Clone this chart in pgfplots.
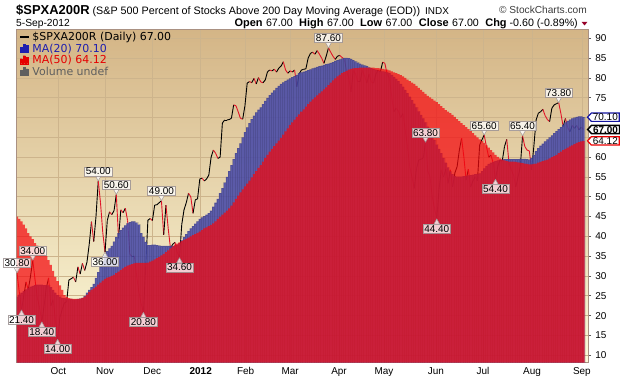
\documentclass[border=0pt]{standalone}
\usepackage{fontspec}
\setmainfont{Liberation Sans}
\newfontfamily\dejavu{DejaVu Sans}
\usepackage{pgfplots}
\pgfplotsset{compat=1.18}
\usepackage{pgfplotstable}
\usetikzlibrary{shapes.symbols}

\definecolor{bgtop}{RGB}{212,181,134}
\definecolor{bgbot}{RGB}{253,250,218}
\definecolor{gridc}{RGB}{205,180,140}
\definecolor{bordc}{RGB}{170,145,130}
\definecolor{tickc}{RGB}{90,90,90}
\definecolor{mablue}{RGB}{72,74,168}
\definecolor{mared}{RGB}{245,8,14}
\definecolor{lblbord}{RGB}{160,150,150}
\definecolor{legblue}{RGB}{30,30,175}
\definecolor{legred}{RGB}{230,0,0}
\definecolor{leggray}{RGB}{95,95,95}
\definecolor{tagblue}{RGB}{20,20,160}
\definecolor{tagred}{RGB}{235,0,0}
\definecolor{chgred}{RGB}{150,0,40}
\definecolor{copyc}{RGB}{60,60,60}

% pointer marks for the value call-outs: apex on the data point
\pgfdeclareplotmark{ptrdown}{%
  \pgfpathmoveto{\pgfqpoint{0pt}{0pt}}%
  \pgfpathlineto{\pgfqpoint{-2.9bp}{5.2bp}}%
  \pgfpathlineto{\pgfqpoint{2.9bp}{5.2bp}}%
  \pgfpathclose\pgfusepathqfillstroke}
\pgfdeclareplotmark{ptrup}{%
  \pgfpathmoveto{\pgfqpoint{0pt}{0pt}}%
  \pgfpathlineto{\pgfqpoint{-2.9bp}{-5.2bp}}%
  \pgfpathlineto{\pgfqpoint{2.9bp}{-5.2bp}}%
  \pgfpathclose\pgfusepathqfillstroke}

% x = trading day index (0 = 7-Sep-2011), p = % above 200 DMA,
% c = 1 if the next day is lower (segment drawn red), m20 / m50 = moving averages
\pgfplotstableread{
x p c m20 m50
0 30.8 1 24.8 45.0
1 26 1 25.3 44.4
2 21.4 0 25.8 43.8
3 25 0 26.2 43.0
4 28.5 1 26.6 42.0
5 26.5 0 27.0 40.8
6 30 0 27.3 40.0
7 34 1 27.5 39.3
8 29 1 27.7 38.3
9 24.5 1 27.8 37.7
10 22 1 27.8 37.2
11 18.4 0 27.8 36.6
12 22.5 0 27.7 35.8
13 27 0 27.7 35.0
14 29.5 1 27.6 34.0
15 22.5 0 27.2 32.8
16 24 1 26.5 31.3
17 19 1 25.8 29.8
18 14 0 25.2 28.7
19 19.5 0 24.8 27.6
20 21.5 0 24.5 26.5
21 23.2 0 24.4 25.2
22 23.5 0 24.3 24.7
23 29 0 24.2 24.4
24 29.3 0 24.2 24.3
25 29.7 1 24.1 24.2
26 28.5 0 24.1 24.2
27 32.3 1 24.2 24.2
28 30.5 0 24.3 24.3
29 33.2 1 24.5 24.5
30 31.4 0 25.0 24.8
31 33.5 0 25.8 25.3
32 38 0 26.5 26.0
33 43.7 1 27.2 26.5
34 38.7 0 28.0 26.9
35 45 0 29.5 27.3
36 54 1 31.0 27.8
37 48.5 1 32.3 28.3
38 41 1 33.8 28.8
39 36 0 35.2 29.3
40 44 0 36.3 29.6
41 46.2 1 37.0 29.8
42 45.5 0 37.6 30.0
43 46.5 0 38.7 30.3
44 50.6 1 39.8 30.7
45 39.5 0 40.8 31.1
46 46.7 1 41.6 31.5
47 46 0 42.2 31.9
48 47.1 1 42.8 32.3
49 44 1 43.3 32.6
50 35.5 1 43.6 32.8
51 34.9 0 43.8 33.0
52 35 1 43.8 33.2
53 30 1 43.5 33.3
54 26 1 43.0 33.3
55 23 1 40.8 33.3
56 20.8 0 39.9 33.3
57 32 0 38.6 33.3
58 44.1 0 37.8 33.4
59 44.5 1 37.8 33.6
60 44 0 37.9 33.9
61 47.9 0 37.9 34.2
62 48 0 37.8 34.5
63 48.5 0 37.7 34.8
64 49 1 37.6 35.2
65 40.4 0 37.6 35.6
66 47.9 1 37.6 36.0
67 42 1 37.6 36.5
68 37 0 37.6 37.0
69 38 0 37.6 37.5
70 38.5 1 37.7 37.9
71 36 1 37.9 38.2
72 34.6 0 38.3 38.5
73 43 0 39.0 38.8
74 46.7 0 39.8 39.1
75 48.5 0 40.6 39.4
76 50.9 1 41.3 39.7
77 50 1 42.0 40.0
78 45.8 0 42.6 40.3
79 49.2 0 43.2 40.6
80 49.5 0 43.8 40.9
81 54.5 0 44.4 41.2
82 54.7 1 44.8 41.6
83 54 0 45.1 42.0
84 54.5 0 45.5 42.3
85 55.5 0 45.9 42.6
86 60 0 46.5 42.9
87 61.8 1 47.5 43.3
88 61 1 48.5 43.8
89 59.7 0 49.5 44.4
90 60 0 50.9 45.0
91 68.6 0 52.2 45.5
92 69.4 0 53.6 46.0
93 69.4 0 55.0 46.5
94 69.5 0 56.5 47.1
95 69.8 0 58.0 47.8
96 73.2 1 59.5 48.6
97 73 1 61.0 49.5
98 71.5 1 62.3 50.3
99 69.8 1 63.5 51.1
100 69.6 0 65.0 51.9
101 73 0 66.3 52.6
102 78.7 0 67.5 53.3
103 79.1 1 68.6 54.1
104 78.8 0 69.6 54.9
105 79.9 1 70.5 55.7
106 78.5 0 71.3 56.5
107 80.1 1 72.0 57.3
108 79 1 72.6 58.0
109 78.8 0 73.4 58.9
110 79.5 0 74.2 59.8
111 81.6 0 75.0 60.6
112 82 1 75.7 61.4
113 81.8 0 76.3 62.1
114 82.2 1 76.9 62.8
115 81.5 0 77.5 63.5
116 82.5 0 78.0 64.2
117 83 0 78.5 64.9
118 84.1 1 78.9 65.7
119 82 1 79.3 66.5
120 81.2 0 79.6 67.3
121 81.8 1 79.9 68.1
122 81.5 0 80.2 68.8
123 82 1 80.5 69.5
124 77.8 0 80.8 70.2
125 81 0 81.2 70.8
126 82 0 81.4 71.5
127 82.2 0 81.6 72.1
128 82.3 0 81.8 72.8
129 85 0 82.0 73.4
130 86.2 0 82.2 74.0
131 86.5 1 82.4 74.6
132 86 0 82.6 75.1
133 86.9 1 82.8 75.6
134 86 1 83.0 76.1
135 85 1 83.1 76.6
136 83.7 0 83.3 77.1
137 85.5 0 83.5 77.6
138 87.6 1 83.6 78.2
139 86.5 1 83.8 78.8
140 85.5 1 84.0 79.4
141 84.7 0 84.3 79.9
142 85.5 0 84.5 80.4
143 85.7 1 84.7 80.8
144 85.2 1 84.9 81.2
145 84.7 1 85.1 81.5
146 82 1 85.1 81.8
147 80 1 85.0 82.1
148 76.5 0 84.8 82.3
149 82 1 84.5 82.4
150 81 1 84.2 82.5
151 79 0 83.9 82.5
152 79 0 83.6 82.6
153 82 1 83.4 82.6
154 80.5 1 83.2 82.6
155 78.7 0 83.0 82.6
156 81 1 82.7 82.6
157 79 1 82.5 82.6
158 78.7 0 82.3 82.6
159 81 0 82.1 82.5
160 82 1 81.9 82.5
161 81.5 0 81.8 82.4
162 84 1 81.7 82.3
163 83.7 1 81.6 82.2
164 81 1 81.4 82.1
165 80 1 81.2 81.9
166 75.3 1 80.8 81.7
167 71.5 0 80.3 81.4
168 72.4 1 79.8 81.2
169 71.6 1 79.2 81.0
170 70 0 78.5 80.7
171 71 1 77.8 80.4
172 66.9 1 77.0 80.0
173 62.7 1 76.2 79.6
174 57.6 1 75.3 79.2
175 55 1 74.4 78.8
176 52.1 0 73.5 78.5
177 57.1 0 72.6 78.0
178 59.3 0 71.6 77.5
179 59.5 0 70.7 77.0
180 59.8 0 69.8 76.5
181 63.8 1 68.8 76.0
182 56.5 1 67.7 75.5
183 55 1 66.6 75.1
184 50 1 65.5 74.7
185 47 1 64.4 74.3
186 44.4 0 63.2 73.9
187 52 0 62.1 73.4
188 56.8 1 61.0 72.9
189 55 0 59.8 72.4
190 57 1 58.6 71.9
191 53.4 0 57.4 71.5
192 56.8 1 56.4 71.1
193 52.5 0 55.7 70.7
194 56 0 55.3 70.2
195 57.6 0 55.1 69.6
196 61.8 0 55.1 69.1
197 64.8 1 55.1 68.6
198 60 1 55.2 68.1
199 54.2 0 55.3 67.6
200 57 1 55.4 67.1
201 52.5 0 55.5 66.6
202 54 0 55.6 66.1
203 55.1 1 55.7 65.5
204 54 0 55.8 65.0
205 63.1 0 55.9 64.5
206 64.4 0 56.5 64.1
207 65.6 1 57.2 63.6
208 62.7 1 57.8 63.0
209 60 0 58.3 62.4
210 60.5 1 58.6 61.8
211 58.5 1 58.8 61.2
212 54.4 0 59.0 60.6
213 57.6 0 59.2 60.1
214 59.3 1 59.3 59.7
215 59 0 59.4 59.4
216 62.7 0 59.5 59.2
217 64.5 1 59.5 59.0
218 58.5 1 59.5 58.9
219 56.8 1 59.5 58.9
220 55.5 1 59.5 58.9
221 52.5 0 59.5 58.8
222 55 0 59.5 58.7
223 57.6 0 59.6 58.6
224 65.4 1 59.6 58.5
225 62.7 1 59.6 58.4
226 61.8 1 59.5 58.3
227 61.6 1 59.4 58.2
228 56.8 0 59.8 58.2
229 62.7 0 60.5 58.3
230 69.4 0 61.5 58.4
231 71.1 0 62.3 58.6
232 71.5 0 62.9 58.8
233 72.1 1 63.4 59.0
234 70.5 1 64.0 59.2
235 69.5 1 64.5 59.4
236 69 0 65.0 59.7
237 72.4 0 65.5 60.0
238 73.2 0 66.1 60.3
239 73.5 0 66.6 60.6
240 73.8 1 67.1 61.0
241 71 1 67.6 61.4
242 67.7 0 68.2 61.8
243 69.8 1 68.8 62.1
244 67.5 1 69.2 62.4
245 66.4 0 69.5 62.7
246 68 1 69.8 63.0
247 67.3 0 70.0 63.3
248 68 1 70.2 63.6
249 66.9 0 70.3 63.8
250 67.6 1 70.3 64.0
251 67 0 70.1 64.12
}\chartdata

\pgfplotstableread{
x y lab
0 30.8 30.80
7 34 34.00
36 54 54.00
44 50.6 50.60
64 49 49.00
138 87.6 87.60
181 63.8 63.80
207 65.6 65.60
224 65.4 65.40
240 73.8 73.80
}\labup

\pgfplotstableread{
x y lab
2 21.4 21.40
11 18.4 18.40
18 14 14.00
39 36 36.00
56 20.8 20.80
72 34.6 34.60
186 44.4 44.40
212 54.4 54.40
}\labdown

\tikzset{lblbox/.style={fill=white, fill opacity=0.78, text opacity=1, draw=lblbord, draw opacity=0.9,
  line width=0.6bp, inner xsep=1.2bp, inner ysep=0.9bp,
  text height=7.2bp, text depth=0bp, font=\fontsize{10}{11}\selectfont, text=black},
  tag/.style={signal, signal to=west, signal pointer angle=95, fill=white, line width=1.2bp,
  inner xsep=1.5bp, inner ysep=0.6bp, text height=7.2bp, text depth=0bp,
  font=\fontsize{10}{11}\selectfont, anchor=west}}

\begin{document}
\begin{tikzpicture}
\useasboundingbox (-17bp,-13.4bp) rectangle (603bp,362.6bp);
\begin{axis}[
  at={(0,0)}, anchor=south west,
  width=571bp, height=333.6bp, scale only axis,
  xmin=0, xmax=253, ymin=8.13, ymax=92.37,
  axis background/.style={shade, top color=bgtop, bottom color=bgbot},
  axis line style={bordc, line width=1bp},
  xtick={18.3,39,59.9,81.4,101.3,121,142.7,162.6,185.6,206.5,228.2,250.3},
  xticklabels={Oct,Nov,Dec,\textbf{2012},Feb,Mar,Apr,May,Jun,Jul,Aug,Sep},
  xtick style={draw=none},
  xticklabel style={font=\fontsize{10}{12}\selectfont, anchor=base, yshift=-9.2bp, inner sep=0pt},
  ytick={10,15,...,90},
  yticklabels={10,15,20,25,30,35,40,45,50,55,60,,,75,80,85,90},
  ytick pos=right, yticklabel pos=right,
  ytick style={draw=tickc, line width=0.7bp},
  tick align=outside, major tick length=3bp,
  yticklabel style={font=\fontsize{10}{12}\selectfont, anchor=west, inner sep=0pt, xshift=4.2bp},
  /pgf/number format/assume math mode=true,
  grid=major, major grid style={draw=gridc, line width=0.6bp},
  clip mode=individual,
  colormap={updown}{rgb255(0cm)=(0,0,0) rgb255(1cm)=(225,20,40)},
  point meta min=0, point meta max=1,
  legend style={at={(axis description cs:0,1)}, anchor=north west, xshift=2bp, yshift=-3bp,
    draw=none, fill=none, inner sep=0pt, row sep=0.4bp, column sep=2bp,
    font=\dejavu\fontsize{11}{13}\selectfont,
    nodes={inner sep=0.3bp, text height=8bp, text depth=2.6bp}},
  legend cell align=left,
]
% price line: black when rising, red when falling
\addplot[mesh, shader=flat corner, point meta=\thisrow{c}, line width=0.9bp, forget plot]
  table[x=x, y=p] {\chartdata};
% MA(20) and MA(50) histograms
\addplot[ybar, bar width=1, bar shift=0pt, fill=mablue, fill opacity=0.88,
  draw=black, draw opacity=0.1, line width=0.2bp, forget plot]
  table[x=x, y=m20] {\chartdata};
\addplot[ybar, bar width=1, bar shift=0pt, fill=mared, fill opacity=0.72,
  draw=none, forget plot]
  table[x=x, y=m50] {\chartdata};
% annotations (semi-transparent boxes with pointers, on top)
\addplot[only marks, mark=ptrdown,
  mark options={fill=white, fill opacity=0.78, draw=lblbord, line width=0.5bp},
  point meta=explicit symbolic, nodes near coords,
  nodes near coords style={lblbox, anchor=south, yshift=4.8bp}, forget plot]
  table[x=x, y=y, meta=lab] {\labup};
\addplot[only marks, mark=ptrup,
  mark options={fill=white, fill opacity=0.78, draw=lblbord, line width=0.5bp},
  point meta=explicit symbolic, nodes near coords,
  nodes near coords style={lblbox, anchor=north, yshift=-4.8bp}, forget plot]
  table[x=x, y=y, meta=lab] {\labdown};

\addlegendimage{legend image code/.code={\draw[black, line width=2bp] (0bp,1.3bp) -- (9bp,1.3bp);}}
\addlegendentry{\$SPXA200R (Daily) 67.00}
\addlegendimage{legend image code/.code={\fill[legblue] (0bp,-2.7bp) rectangle (2.2bp,2.3bp) (2.9bp,-2.7bp) rectangle (5.1bp,5.3bp) (5.8bp,-2.7bp) rectangle (8bp,3.8bp);}}
\addlegendentry{\textcolor{legblue}{MA(20) 70.10}}
\addlegendimage{legend image code/.code={\fill[legred] (0bp,-2.7bp) rectangle (2.2bp,2.3bp) (2.9bp,-2.7bp) rectangle (5.1bp,5.3bp) (5.8bp,-2.7bp) rectangle (8bp,3.8bp);}}
\addlegendentry{\textcolor{legred}{MA(50) 64.12}}
\addlegendimage{legend image code/.code={\fill[leggray] (0bp,-2.7bp) rectangle (2.2bp,2.3bp) (2.9bp,-2.7bp) rectangle (5.1bp,5.3bp) (5.8bp,-2.7bp) rectangle (8bp,3.8bp);}}
\addlegendentry{\textcolor{leggray}{Volume undef}}

\coordinate (t20) at (axis cs:253,70.1);
\coordinate (tpx) at (axis cs:253,67);
\coordinate (t50) at (axis cs:253,64.12);
\end{axis}

% value tags on the right
\node[tag, draw=tagblue] at ([xshift=-1.3bp]t20) {70.10};
\node[tag, draw=black, line width=1.5bp, font=\fontsize{10}{11}\selectfont\bfseries] at ([xshift=-1.3bp]tpx) {67.00};
\node[tag, draw=tagred] at ([xshift=-1.3bp]t50) {64.12};

% header
\node[anchor=base west, inner sep=0pt] at (-1bp,348bp)
  {\fontsize{13}{14}\selectfont\bfseries \$SPXA200R\hspace{3bp}\mdseries\fontsize{10.8}{12}\selectfont (S\&P 500 Percent of Stocks Above 200 Day Moving Average (EOD))\hspace{5bp}\fontsize{10}{11}\selectfont INDX};
\node[anchor=base east, inner sep=0pt, text=copyc] at (570bp,348.6bp)
  {\fontsize{10.2}{11}\selectfont \textcopyright\ StockCharts.com};
\node[anchor=base west, inner sep=0pt] at (-1bp,335.9bp)
  {\fontsize{10.3}{11}\selectfont 5-Sep-2012};
\node[anchor=base east, inner sep=0pt] at (561bp,335.9bp)
  {\fontsize{10.7}{12}\selectfont \textbf{\fontsize{11}{12}\selectfont Open}\hspace{3.5bp}67.00\hspace{6.5bp}\textbf{\fontsize{11}{12}\selectfont High}\hspace{3.5bp}67.00\hspace{6.5bp}\textbf{\fontsize{11}{12}\selectfont Low}\hspace{3.5bp}67.00\hspace{6.5bp}\textbf{\fontsize{11}{12}\selectfont Close}\hspace{3.5bp}67.00\hspace{6.5bp}\textbf{\fontsize{11}{12}\selectfont Chg}\hspace{3bp}-0.60 (-0.89\%)};
\fill[chgred] (564.7bp,340.6bp) -- (570.3bp,340.6bp) -- (567.5bp,337.1bp) -- cycle;
\end{tikzpicture}
\end{document}
